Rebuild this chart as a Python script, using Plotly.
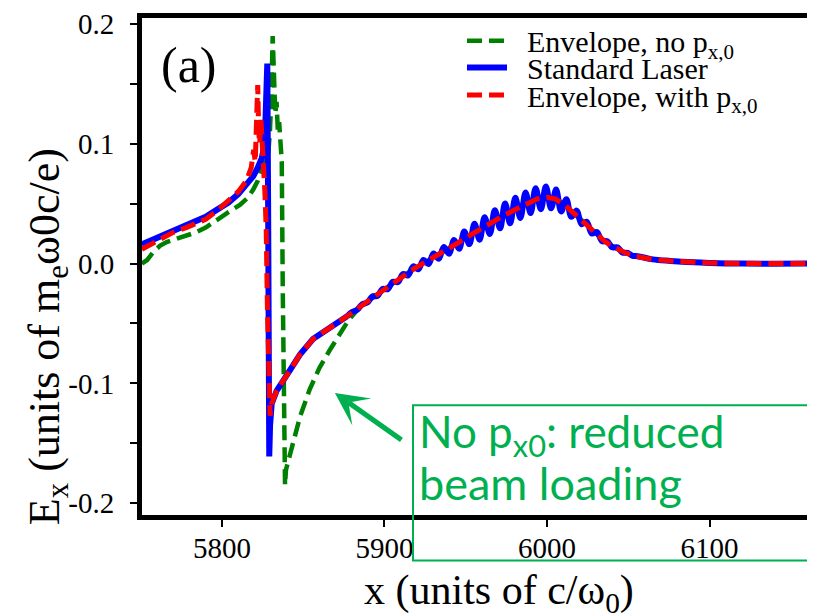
import plotly.graph_objects as go

# ---------------- data ----------------
# shared smooth wake envelope after the beam region (used by both envelope runs)
env_x = [5885, 5890, 5897, 5905, 5910, 5918, 5925, 5930, 5938, 5945, 5953, 5960,
         5967, 5973, 5980, 5987, 5994, 6000, 6005, 6010, 6015, 6020, 6025, 6031,
         6036, 6041, 6048, 6055, 6065, 6076, 6090, 6100, 6120, 6170]
env_y = [-0.036, -0.031, -0.0245, -0.017, -0.012, -0.0044, 0.001, 0.005, 0.011, 0.017,
         0.024, 0.029, 0.035, 0.040, 0.045, 0.050, 0.054, 0.0553, 0.054, 0.050, 0.044,
         0.038, 0.031, 0.024, 0.018, 0.014, 0.009, 0.006, 0.0035, 0.0022, 0.001, 0.0005,
         0.0, 0.0]

# Envelope, no p_x,0 (green) - beam region
green_x = [5750.7, 5754, 5758, 5762, 5766, 5770, 5774, 5779, 5784, 5790, 5797, 5804,
           5811, 5816, 5819.3, 5822, 5824.5, 5826.5, 5828.5, 5829.5, 5830.3, 5831.2,
           5832.0, 5832.8, 5833.6, 5834.4, 5835.2, 5836.0, 5836.8, 5837.4, 5838.2,
           5838.8, 5839.4, 5840.2, 5841.9, 5844, 5848, 5854, 5860, 5866, 5872, 5878]
green_y = [0.000, 0.003, 0.010, 0.015, 0.018, 0.020, 0.022, 0.024, 0.026, 0.030, 0.037,
           0.043, 0.049, 0.055, 0.062, 0.069, 0.079, 0.086, 0.092, 0.110, 0.135, 0.190,
           0.150, 0.125, 0.135, 0.110, 0.118, 0.095, 0.085, -0.020, -0.150, -0.185,
           -0.172, -0.168, -0.160, -0.147, -0.128, -0.105, -0.087, -0.073, -0.060, -0.047]

# Envelope, with p_x,0 (red) - beam region
red_x = [5750.7, 5756, 5762, 5770, 5778, 5784, 5790, 5797, 5804, 5810, 5815, 5818,
         5819.5, 5820.5, 5821.3, 5822.0, 5822.6, 5823.2, 5824.0, 5824.8, 5825.6, 5826.4,
         5827.2, 5828.0, 5828.8, 5829.6, 5830.6, 5833.7, 5840, 5848, 5856, 5864, 5870,
         5877]
red_y = [0.012, 0.016, 0.020, 0.026, 0.030, 0.033, 0.037, 0.044, 0.052, 0.060, 0.069,
         0.080, 0.095, 0.085, 0.120, 0.149, 0.110, 0.100, 0.120, 0.090, 0.080, 0.060,
         0.030, -0.040, -0.100, -0.127, -0.117, -0.106, -0.093, -0.076, -0.063, -0.056,
         -0.050, -0.044]

# Standard laser (blue) - beam region
blue_x = [5750.7, 5756, 5762, 5770, 5778, 5784, 5790, 5797, 5804, 5810, 5815, 5819.3,
          5822, 5824.5, 5826.3, 5827.2, 5827.9, 5828.4, 5828.8, 5829.1, 5829.6, 5830.6,
          5833.7, 5840, 5848, 5856, 5864, 5870, 5877]
blue_y = [0.016, 0.019, 0.023, 0.028, 0.032, 0.035, 0.039, 0.045, 0.051, 0.058, 0.066,
          0.073, 0.080, 0.088, 0.100, 0.130, 0.167, 0.050, -0.100, -0.161, -0.135,
          -0.117, -0.106, -0.093, -0.076, -0.063, -0.056, -0.050, -0.044]

# Standard laser (blue) - laser oscillation maxima/minima in the wake
osc_x = [5877, 5880.0, 5883.1, 5886.3, 5889.4, 5892.6, 5895.7, 5898.8, 5902.0, 5905.1,
         5908.3, 5911.4, 5914.5, 5917.7, 5920.8, 5924.0, 5927.1, 5930.2, 5933.4, 5936.5,
         5939.7, 5942.8, 5945.9, 5949.1, 5952.2, 5955.4, 5958.5, 5961.6, 5964.8, 5967.9,
         5971.1, 5974.2, 5977.3, 5980.5, 5983.6, 5986.8, 5989.9, 5993.0, 5996.2, 5999.3,
         6002.5, 6005.6, 6008.7, 6011.9, 6015.0, 6018.2, 6021.3, 6024.4, 6027.6, 6030.7,
         6033.9, 6037.0, 6040.1, 6043.3, 6046.4, 6049.6, 6052.7, 6055.8]
osc_y = [-0.044, -0.0405, -0.0387, -0.0339, -0.0326, -0.0274, -0.0270, -0.0212, -0.0214,
         -0.0152, -0.0155, -0.0087, -0.0099, -0.0023, -0.0048, 0.0030, -0.0004, 0.0085,
         0.0040, 0.0139, 0.0082, 0.0197, 0.0124, 0.0267, 0.0163, 0.0332, 0.0199, 0.0387,
         0.0246, 0.0445, 0.0294, 0.0502, 0.0336, 0.0549, 0.0381, 0.0593, 0.0422, 0.0629,
         0.0454, 0.0643, 0.0461, 0.0618, 0.0435, 0.0537, 0.0390, 0.0442, 0.0329, 0.0348,
         0.0251, 0.0264, 0.0187, 0.0187, 0.0135, 0.0136, 0.0093, 0.0089, 0.0065, 0.0061]
blue_tail_x = [6065, 6076, 6090, 6100, 6120, 6170]
blue_tail_y = [0.0035, 0.0022, 0.001, 0.0005, 0.0, 0.0]

x_tickvals = [5800, 5900, 6000, 6100]
x_ticktext = ["5800", "5900", "6000", "6100"]
y_tickvals = [-0.2, -0.1, 0.0, 0.1, 0.2]
y_ticktext = ["-0.2", "-0.1", "0.0", "0.1", "0.2"]

NB = "\u00a0\u00a0"
names = [NB + "Envelope, no p<sub>x,0</sub>", NB + "Standard Laser",
         NB + "Envelope, with p<sub>x,0</sub>"]

# ---------------- layout geometry (page pixels) ----------------
OFF = 8          # page offset of the figure (body margin)
W, H = 815 - OFF, 616 - OFF
PL, PT, PB, PR = 142, 12, 515, 815  # plot area in page px
ML, MT, MB, MR = PL - OFF, PT - OFF, (616 - PB), 0


def px(xp):
    return (xp - PL) / (PR - PL)


def py(yp):
    return (PB - yp) / (PB - PT)


SERIF = "'Liberation Serif', 'Times New Roman', 'DejaVu Serif', serif"
SANS = "Lato, 'Noto Sans', sans-serif"
GREEN_TXT = "#00B050"

fig = go.Figure()
fig.add_trace(go.Scatter(x=green_x + env_x, y=green_y + env_y, mode="lines",
                         name=names[0], legend="legend",
                         line=dict(color="#008000", width=4.5, dash="15px,7px")))
fig.add_trace(go.Scatter(x=blue_x, y=blue_y, mode="lines", name=names[1],
                         legend="legend2", legendgroup="blue",
                         line=dict(color="#0000FF", width=6)))
fig.add_trace(go.Scatter(x=osc_x + blue_tail_x, y=osc_y + blue_tail_y, mode="lines",
                         name=names[1], legendgroup="blue", showlegend=False,
                         line=dict(color="#0000FF", width=6, shape="spline",
                                   smoothing=1)))
fig.add_trace(go.Scatter(x=red_x + env_x, y=red_y + env_y, mode="lines",
                         name=names[2], legend="legend3",
                         line=dict(color="#FF0000", width=5, dash="15px,7px")))

leg_common = dict(xanchor="left", yanchor="middle", bgcolor="rgba(0,0,0,0)",
                  font=dict(family=SERIF, size=30, color="black"), itemwidth=40)

fig.update_layout(
    width=W, height=H, autosize=False,
    margin=dict(l=ML, r=MR, t=MT, b=MB, pad=0),
    paper_bgcolor="white", plot_bgcolor="white",
    font=dict(family=SERIF, color="black"),
    legend=dict(x=px(462), y=py(35), **leg_common),
    legend2=dict(x=px(462), y=py(62), **leg_common),
    legend3=dict(x=px(462), y=py(90), **leg_common),
    xaxis=dict(range=[5750.8, 6164.9], showgrid=False, zeroline=False,
               showline=True, linecolor="black", linewidth=5, mirror=True,
               ticks="outside", ticklen=7, tickwidth=2, tickcolor="black",
               tickvals=x_tickvals, ticktext=x_ticktext,
               tickfont=dict(family=SERIF, size=29, color="black"),
               ticklabelstandoff=-4, ticklabeloverflow="allow"),
    yaxis=dict(range=[-0.2099, 0.205], showgrid=False, zeroline=False,
               showline=True, linecolor="black", linewidth=5,
               ticks="outside", ticklen=7, tickwidth=2, tickcolor="black",
               tickvals=y_tickvals, ticktext=y_ticktext,
               minor=dict(dtick=0.05, tick0=0, ticks="outside", ticklen=7,
                          tickwidth=2, tickcolor="black"),
               tickfont=dict(family=SERIF, size=29, color="black"),
               ticklabelstandoff=10, ticklabeloverflow="allow"),
    showlegend=True,
)

# green callout box
fig.add_shape(type="rect", xref="paper", yref="paper",
              x0=px(413), x1=px(900), y0=py(561), y1=py(404),
              line=dict(color=GREEN_TXT, width=2), fillcolor="rgba(0,0,0,0)")

annos = [
    dict(text="(a)", x=px(189), y=py(60), xref="paper", yref="paper",
         showarrow=False, font=dict(family=SERIF, size=50, color="black"),
         xanchor="center", yanchor="middle"),
    dict(text="E<sub>x</sub> (units of m<sub>e</sub>ω0c/e)", x=px(47), y=py(335),
         xref="paper", yref="paper", showarrow=False, textangle=-90,
         font=dict(family=SERIF, size=44, color="black"),
         xanchor="center", yanchor="middle"),
    dict(text="x (units of c/ω<sub>0</sub>)", x=px(499), y=py(594),
         xref="paper", yref="paper", showarrow=False,
         font=dict(family=SERIF, size=42, color="black"),
         xanchor="center", yanchor="middle"),
    dict(text="No p<sub>x0</sub>: reduced", x=px(417), y=py(434),
         xref="paper", yref="paper", showarrow=False,
         font=dict(family=SANS, size=44, color=GREEN_TXT),
         xanchor="left", yanchor="middle"),
    dict(text="beam loading", x=px(417), y=py(483),
         xref="paper", yref="paper", showarrow=False,
         font=dict(family=SANS, size=45, color=GREEN_TXT),
         xanchor="left", yanchor="middle"),
    dict(text="", x=5869.5, y=-0.108, xref="x", yref="y", showarrow=True,
         ax=68, ay=48, arrowcolor=GREEN_TXT, arrowwidth=5, arrowhead=3,
         arrowsize=1.1),
]
for a in annos:
    fig.add_annotation(**a)

fig.write_html("out.html")
